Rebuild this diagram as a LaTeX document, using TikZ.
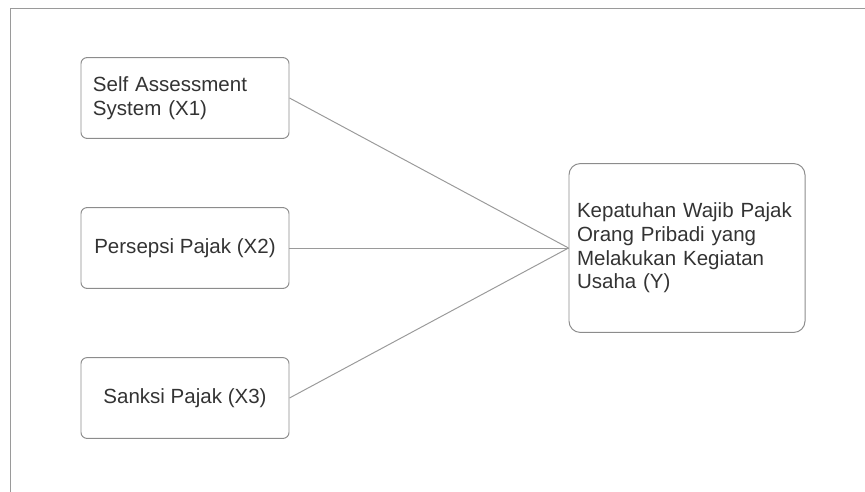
\documentclass[tikz,border=0pt]{standalone}
\usepackage{fontspec}
\setmainfont{Liberation Sans}
\usepackage{tikz}
\usetikzlibrary{shapes,arrows,positioning}

\definecolor{boxline}{HTML}{8C8C8C}
\definecolor{wireline}{HTML}{9A9A9A}
\definecolor{labeltext}{HTML}{333333}

\begin{document}
\begin{tikzpicture}[node distance=3.75cm,auto,
	varbox/.style={rectangle, rounded corners=0.15cm, draw=boxline, line width=0.7pt,
		text=labeltext, font=\fontsize{14.6}{16.8}\selectfont,
		minimum width=5.2cm, minimum height=2.02cm, inner xsep=0.3cm, align=center},
	outbox/.style={varbox, rounded corners=0.28cm, minimum width=5.9cm, minimum height=4.22cm,
		inner xsep=0.2cm, text width=5.5cm, align=left},
	wire/.style={draw=wireline, line width=0.7pt}]
	\useasboundingbox (-4.625,-9.85) rectangle (17.0,2.45);
	\draw[wireline, line width=0.7pt] (-4.36,-9.85) -- (-4.36,2.25) -- (17.0,2.25);

	\node (X1) [varbox, text width=4.6cm, align=left] {Self Assessment\\System (X1)};
	\node (X2) [below of=X1, varbox] {Persepsi Pajak (X2)};
	\node (X3) [below of=X2, varbox] {Sanksi Pajak (X3)};
	\node (Y) [right of=X2, node distance=12.55cm, outbox]
		{Kepatuhan Wajib Pajak\\Orang Pribadi yang\\Melakukan Kegiatan\\Usaha (Y)};

	\path[wire] (X1.east) edge (Y.west);
	\path[wire] (X2.east) edge (Y.west);
	\path[wire] (X3.east) edge (Y.west);
\end{tikzpicture}
\end{document}
